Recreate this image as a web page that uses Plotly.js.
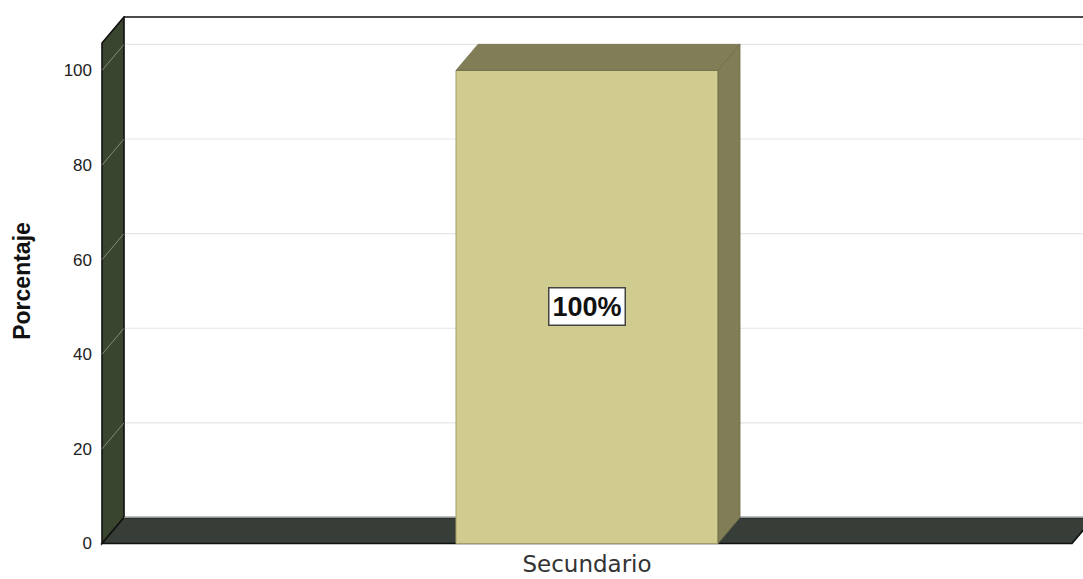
<!DOCTYPE html>
<html>
<head>
<meta charset="utf-8">
<script src="https://cdn.plot.ly/plotly-3.0.1.min.js"></script>
<style>html,body{margin:0;padding:0;background:#fff;}#chart{width:1083px;height:579px;}</style>
</head>
<body>
<div id="chart"></div>
<script>
// ---- data ----
const categories = ["Secundario"];
const values = [100];
const yTickVals = [0, 20, 40, 60, 80, 100];
const yTickText = ["0", "20", "40", "60", "80", "100"];
const yTitle = "Porcentaje";

// ---- geometry (axis units) ----
const BAR_W = 0.6;
const DX = 0.0504;   // depth offset in x units
const DY = 5.5;      // depth offset in y units
const XL = -1.1106, XR = 1.1106;  // front plane extent
const TOP_FRONT = 105.8;
const TOP_BACK = TOP_FRONT + DY;

const xs = categories.map((c, i) => i);

const shapes = [];
function path(pts){ return 'M ' + pts.map(p => p[0] + ',' + p[1]).join(' L ') + ' Z'; }

// back wall gridlines
yTickVals.filter(v => v > 0).forEach(v => {
  shapes.push({type:'line', layer:'below', xref:'x', yref:'y', x0:XL+DX, x1:XR+DX+0.2, y0:v+DY, y1:v+DY,
    line:{color:'#e6e6e6', width:1.2}});
});
// back wall top border
shapes.push({type:'line', layer:'below', xref:'x', yref:'y', x0:XL+DX, x1:XR+DX+0.2, y0:TOP_BACK, y1:TOP_BACK,
  line:{color:'#111', width:1.6}});
// left wall
shapes.push({type:'path', layer:'below', xref:'x', yref:'y',
  path: path([[XL,0],[XL+DX,DY],[XL+DX,TOP_BACK],[XL,TOP_FRONT]]),
  fillcolor:'#3a452f', line:{color:'#111', width:1.6}});
// left wall diagonal gridlines
yTickVals.filter(v => v > 0).forEach(v => {
  shapes.push({type:'line', layer:'below', xref:'x', yref:'y', x0:XL, x1:XL+DX, y0:v, y1:v+DY,
    line:{color:'rgba(190,195,185,0.55)', width:1}});
});
// floor
shapes.push({type:'path', layer:'below', xref:'x', yref:'y',
  path: path([[XL,0],[XR,0],[XR+DX,DY],[XL+DX,DY]]),
  fillcolor:'#373d37', line:{color:'#111', width:1.6}});
shapes.push({type:'line', layer:'below', xref:'x', yref:'y', x0:XL+DX, x1:XR+DX, y0:DY, y1:DY,
  line:{color:'#9a9a9a', width:1}});

// bar 3D faces
xs.forEach((x, i) => {
  const v = values[i];
  const x0 = x - BAR_W/2, x1 = x + BAR_W/2;
  shapes.push({type:'path', layer:'above', xref:'x', yref:'y',
    path: path([[x0,v],[x0+DX,v+DY],[x1+DX,v+DY],[x1,v]]),
    fillcolor:'#807d57', line:{color:'#6e6b49', width:0.8}});
  shapes.push({type:'path', layer:'above', xref:'x', yref:'y',
    path: path([[x1,0],[x1,v],[x1+DX,v+DY],[x1+DX,DY]]),
    fillcolor:'#807d57', line:{color:'#6e6b49', width:0.8}});
});

const annotations = xs.map((x, i) => ({
  x: x, y: values[i] / 2, xref:'x', yref:'y', showarrow:false,
  text: '<b>' + values[i] + '%</b>',
  font:{family:'Liberation Sans, Arial, sans-serif', size:27, color:'#111'},
  bgcolor:'#ffffff', bordercolor:'#444', borderwidth:1.5, borderpad:3
}));

const trace = {
  type:'bar', x: xs, y: values, width: BAR_W,
  marker:{color:'#d0cb8f', line:{color:'#a29e6c', width:1}},
  hoverinfo:'skip'
};

const layout = {
  width:1083, height:579,
  margin:{l:99, r:0, t:16, b:33, pad:0},
  paper_bgcolor:'#ffffff', plot_bgcolor:'#ffffff',
  showlegend:false,
  font:{family:'Liberation Sans, Arial, sans-serif', color:'#222'},
  xaxis:{
    range:[-1.1175, 1.1358], showgrid:false, zeroline:false, showline:false,
    tickvals: xs, ticktext: categories, ticks:'',
    tickfont:{family:'DejaVu Sans, sans-serif', size:23, color:'#333'},
    ticklabelstandoff: 2, fixedrange:true
  },
  yaxis:{
    range:[-0.53, 111.5], showgrid:false, zeroline:false, showline:false,
    tickvals: yTickVals, ticktext: yTickText, ticks:'',
    tickfont:{family:'Liberation Sans, Arial, sans-serif', size:17, color:'#222'},
    ticklabelstandoff: 6,
    title:{text:'<b>' + yTitle + '</b>', font:{family:'Liberation Sans, Arial, sans-serif', size:23, color:'#111'}, standoff:26},
    fixedrange:true
  },
  shapes: shapes,
  annotations: annotations
};

Plotly.newPlot('chart', [trace], layout, {displayModeBar:false, staticPlot:true});
</script>
</body>
</html>
